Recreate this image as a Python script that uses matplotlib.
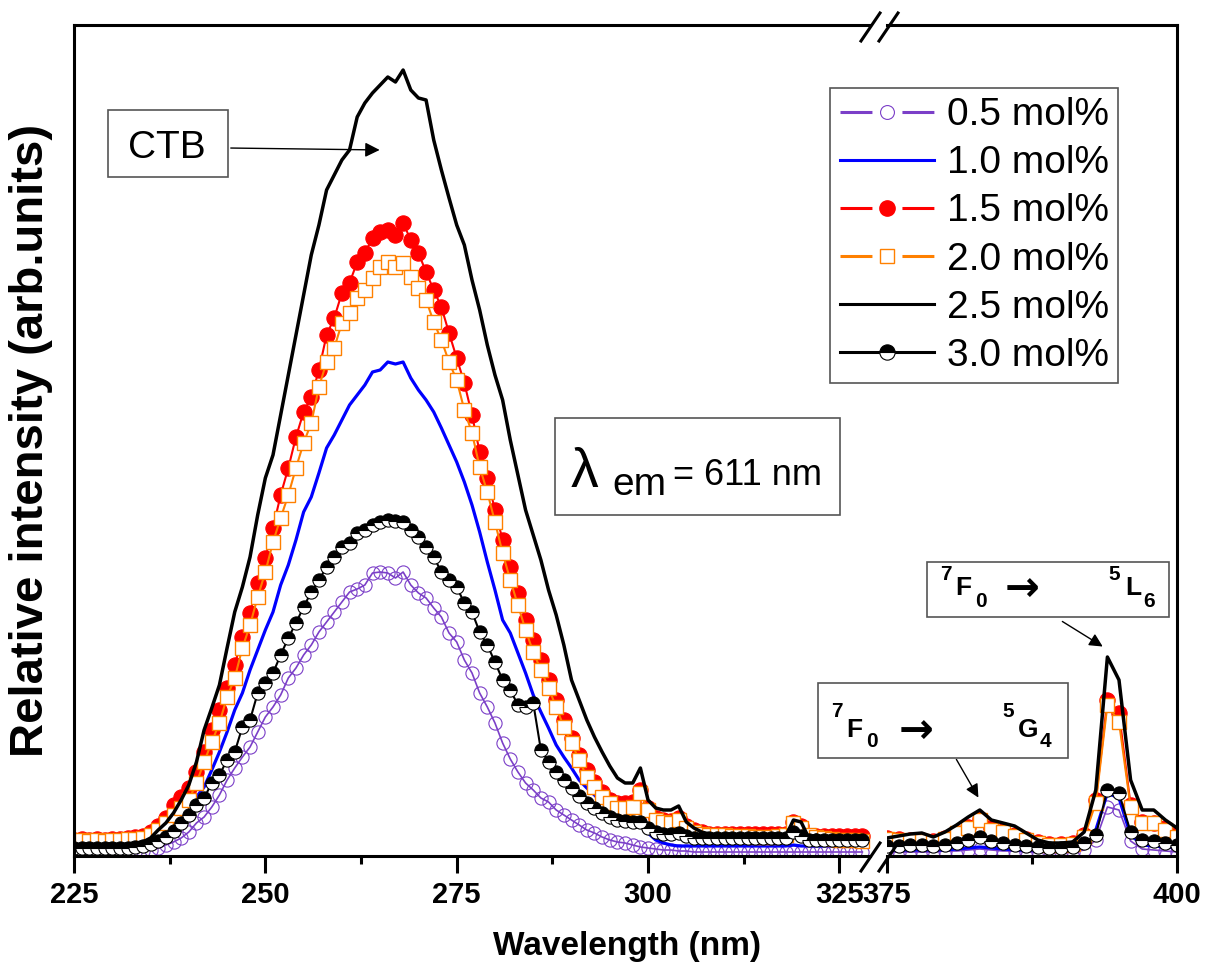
"""
Excitation spectra (lambda_em = 611 nm) for the six dopant concentrations,
drawn on a broken wavelength axis: 225-329 nm and 375-400 nm.
"""

import matplotlib.pyplot as plt
from matplotlib.lines import Line2D
from matplotlib.patches import Rectangle
from matplotlib.ticker import MultipleLocator

W, H = 1207, 969  # output size in pixels at dpi=100

plt.rcParams['font.family'] = ['Liberation Sans', 'DejaVu Sans']
plt.rcParams['lines.scale_dashes'] = False

# Wavelength grids (nm) of the two axis segments.
wl_left = list(range(225, 329))
wl_right = list(range(375, 401))

# Intensities (arb. units), one list per segment and concentration.
i05_left = [2, 2, 2, 2, 2, 2, 2, 3, 3, 4,
            5, 7, 10, 13, 17, 23, 32, 38, 48, 60,
            75, 87, 98, 108, 123, 138, 148, 160, 177, 187,
            200, 210, 223, 233, 243, 253, 263, 266, 270, 282,
            283, 282, 277, 283, 270, 262, 257, 247, 238, 222,
            213, 195, 182, 162, 148, 132, 112, 96, 83, 72,
            65, 57, 53, 45, 40, 35, 30, 25, 22, 18,
            15, 13, 12, 10, 8, 7, 6, 5, 5, 4,
            4, 3, 3, 3, 3, 3, 3, 3, 3, 3,
            3, 3, 3, 3, 3, 3, 3, 3, 3, 3,
            3, 3, 3, 3]
i10_left = [5, 5, 5, 5, 5, 5, 6, 6, 7, 9,
            12, 20, 27, 35, 43, 51, 58, 68, 85, 103,
            123, 145, 162, 185, 205, 225, 243, 270, 290, 315,
            343, 358, 382, 407, 420, 435, 450, 460, 470, 483,
            485, 493, 491, 493, 477, 465, 455, 443, 427, 410,
            393, 373, 350, 323, 293, 265, 235, 222, 202, 182,
            160, 143, 127, 110, 98, 87, 75, 67, 60, 52,
            47, 40, 37, 35, 33, 22, 15, 12, 10, 9,
            9, 9, 9, 9, 9, 9, 9, 9, 9, 9,
            9, 9, 9, 9, 10, 9, 9, 9, 9, 9,
            9, 9, 9, 9]
i15_left = [15, 16, 15, 16, 15, 16, 16, 17, 18, 19,
            23, 29, 37, 50, 58, 67, 83, 103, 125, 145,
            167, 190, 218, 242, 272, 297, 327, 360, 387, 418,
            443, 458, 485, 520, 537, 562, 572, 593, 602, 617,
            623, 625, 620, 632, 615, 602, 583, 565, 548, 522,
            497, 472, 440, 403, 377, 345, 315, 288, 262, 235,
            215, 195, 175, 155, 135, 117, 100, 85, 73, 63,
            55, 52, 52, 53, 65, 47, 37, 35, 34, 37,
            29, 25, 23, 21, 21, 21, 21, 21, 21, 21,
            21, 21, 21, 21, 33, 29, 19, 19, 19, 19,
            19, 19, 19, 19]
i20_left = [14, 15, 14, 15, 14, 15, 15, 16, 16, 17,
            20, 25, 32, 40, 47, 55, 72, 93, 113, 132,
            158, 177, 207, 230, 258, 283, 313, 337, 360, 387,
            412, 432, 468, 493, 507, 532, 542, 557, 565, 577,
            588, 593, 588, 592, 578, 567, 555, 533, 515, 493,
            475, 445, 422, 388, 363, 333, 302, 275, 250, 225,
            203, 185, 167, 148, 128, 112, 95, 78, 68, 58,
            52, 47, 47, 48, 62, 45, 35, 33, 32, 35,
            27, 23, 21, 20, 20, 20, 19, 19, 19, 18,
            18, 18, 19, 20, 32, 27, 20, 18, 17, 16,
            15, 15, 15, 14]
i25_left = [10, 10, 11, 10, 10, 11, 10, 11, 12, 13,
            17, 25, 32, 42, 55, 70, 93, 125, 147, 170,
            207, 243, 268, 298, 340, 377, 400, 440, 480, 520,
            560, 600, 630, 665, 680, 695, 705, 738, 752, 762,
            770, 778, 773, 785, 765, 757, 755, 715, 685, 657,
            630, 610, 575, 545, 510, 480, 455, 415, 380, 345,
            320, 295, 265, 240, 210, 175, 155, 135, 118, 103,
            89, 77, 72, 72, 87, 55, 47, 45, 45, 49,
            33, 27, 23, 21, 20, 19, 18, 17, 17, 17,
            17, 18, 18, 19, 35, 33, 17, 20, 17, 15,
            13, 13, 12, 12]
i30_left = [7, 7, 7, 7, 7, 7, 7, 7, 8, 9,
            11, 14, 18, 24, 32, 40, 50, 57, 72, 80,
            95, 103, 128, 135, 162, 172, 182, 200, 217, 232,
            248, 263, 275, 288, 298, 308, 312, 322, 325, 330,
            333, 335, 334, 333, 325, 318, 308, 298, 283, 275,
            268, 252, 243, 223, 210, 193, 175, 165, 150, 148,
            152, 105, 93, 83, 75, 67, 59, 52, 47, 42,
            38, 35, 34, 33, 33, 27, 23, 21, 21, 22,
            19, 17, 17, 17, 17, 17, 17, 17, 17, 17,
            17, 17, 17, 17, 23, 19, 15, 15, 15, 15,
            15, 15, 15, 15]

i05_right = [3, 3, 3, 3, 3, 4, 4, 5, 6, 5, 4, 4, 3,
             3, 3, 3, 3, 5, 15, 48, 45, 14, 6, 5, 4, 3]
i10_right = [5, 5, 5, 5, 5, 5, 6, 7, 8, 7, 6, 5, 5,
             4, 4, 4, 5, 8, 25, 62, 57, 20, 10, 9, 8, 7]
i15_right = [17, 16, 15, 15, 14, 17, 22, 28, 36, 27, 24, 20, 16,
             13, 11, 11, 12, 20, 55, 155, 142, 50, 33, 32, 27, 20]
i20_right = [16, 15, 14, 14, 13, 16, 22, 27, 35, 25, 23, 19, 15,
             12, 10, 10, 11, 18, 52, 150, 133, 48, 32, 32, 25, 18]
i25_right = [17, 19, 21, 22, 18, 23, 30, 38, 45, 35, 32, 29, 22,
             15, 12, 12, 13, 23, 65, 198, 175, 75, 45, 45, 35, 27]
i30_right = [9, 9, 10, 10, 9, 10, 12, 15, 18, 14, 12, 10, 9,
             8, 7, 7, 8, 12, 20, 65, 62, 23, 15, 14, 12, 10]

labels = ["0.5 mol%", "1.0 mol%", "1.5 mol%", "2.0 mol%", "2.5 mol%", "3.0 mol%"]

PURPLE = '#7B3FC8'
BLUE = '#0000FF'
RED = '#FF0000'
ORANGE = '#FF8000'

styles = [
    dict(color=PURPLE, lw=1.2, marker='o', ms=9.5, mfc='none', mec=PURPLE, mew=0.8),
    dict(color=BLUE, lw=2.3),
    dict(color=RED, lw=1.5, marker='o', ms=11, mfc=RED, mec=RED, mew=0.8),
    dict(color=ORANGE, lw=1.5, marker='s', ms=9.5, mfc='white', mec=ORANGE, mew=1.0),
    dict(color='black', lw=2.5),
    dict(color='black', lw=1.5, marker='o', ms=9.5, fillstyle='top', mfc='black',
         markerfacecoloralt='white', mec='black', mew=0.8),
]
left_data = [i05_left, i10_left, i15_left, i20_left, i25_left, i30_left]
right_data = [i05_right, i10_right, i15_right, i20_right, i25_right, i30_right]


def fx(x):
    return x / W


def fy(y):
    return 1 - y / H


def add_box(fig, x0, y0, x1, y1):
    fig.add_artist(Rectangle((fx(x0), fy(y1)), (x1 - x0) / W, (y1 - y0) / H,
                             transform=fig.transFigure, facecolor='white',
                             edgecolor='#555555', lw=1.2, zorder=2))


def add_pieces(fig, pieces):
    """Draw (text, x, baseline, size, family) pieces in pixel positions."""
    for s, x, y, size, fam in pieces:
        fig.text(fx(x), fy(y), s, fontsize=size, fontweight='bold', family=fam,
                 ha='left', va='baseline', zorder=3)


fig = plt.figure(figsize=(W / 100, H / 100), dpi=100)
ax1 = fig.add_axes([fx(74), fy(856), (870 - 74) / W, (856 - 25) / H])
ax2 = fig.add_axes([fx(887), fy(856), (1177 - 887) / W, (856 - 25) / H])

for d_left, d_right, st in zip(left_data, right_data, styles):
    ax1.plot(wl_left, d_left, **st)
    ax2.plot(wl_right, d_right, **st)

ax1.set_xlim(225, 329)
ax2.set_xlim(375, 400)
for ax in (ax1, ax2):
    ax.set_ylim(-1, 830)
    ax.set_yticks([])
    for sp in ax.spines.values():
        sp.set_linewidth(2.2)
    ax.xaxis.set_major_locator(MultipleLocator(25))
    ax.xaxis.set_minor_locator(MultipleLocator(12.5))
    ax.tick_params(axis='x', which='major', direction='out', length=12, width=2.2,
                   pad=6, labelsize=21)
    ax.tick_params(axis='x', which='minor', direction='out', length=6, width=2.2)
    for lab in ax.get_xticklabels():
        lab.set_fontweight('bold')
ax1.spines['right'].set_visible(False)
ax2.spines['left'].set_visible(False)

# axis break marks
for y_top, y_bot in ((41, 13), (871, 843)):
    for dx in (0, 18):
        fig.add_artist(Line2D([fx(861 + dx), fx(880 + dx)], [fy(y_top), fy(y_bot)],
                              transform=fig.transFigure, color='black', lw=2.2))

# legend with proxy handles
gap = dict(dashes=(23, 21.6))
handles = [
    Line2D([], [], color=PURPLE, lw=2.2, marker='o', ms=10, mfc='white', mec=PURPLE, mew=0.8, **gap),
    Line2D([], [], color=BLUE, lw=2.2),
    Line2D([], [], color=RED, lw=2.2, marker='o', ms=11, mfc=RED, mec=RED, **gap),
    Line2D([], [], color=ORANGE, lw=2.2, marker='s', ms=10, mfc='white', mec=ORANGE, mew=1.0, **gap),
    Line2D([], [], color='black', lw=2.2),
    Line2D([], [], color='black', lw=2.2, marker='o', ms=11, fillstyle='top', mfc='black',
           markerfacecoloralt='white', mec='black', mew=0.8),
]
leg = fig.legend(handles, labels, loc='upper right', bbox_to_anchor=(fx(1118), fy(88)),
                 bbox_transform=fig.transFigure, fontsize=28, handlelength=2.42,
                 handletextpad=0.33, labelspacing=0.31, borderpad=0.24, borderaxespad=0,
                 fancybox=False, framealpha=1, edgecolor='#555555', numpoints=1)
leg.get_frame().set_linewidth(1.2)

# CTB label
add_box(fig, 108, 110, 228, 177)
fig.text(fx(167), fy(158), "CTB", fontsize=28, ha='center', va='baseline', zorder=3)
ax1.annotate('', xy=(265.3, 705), xycoords='data', xytext=(228, H - 148),
             textcoords='figure pixels',
             arrowprops=dict(arrowstyle='-|>', color='black', lw=1.0, mutation_scale=22))

# excitation wavelength
add_box(fig, 555, 418, 840, 515)
fig.text(fx(571), fy(487), "λ", fontsize=40, ha='left', va='baseline', zorder=3)
fig.text(fx(612), fy(495), "em", fontsize=28, ha='left', va='baseline', zorder=3)
fig.text(fx(673), fy(485), "= 611 nm", fontsize=26, ha='left', va='baseline', zorder=3)

# f-f transitions
add_box(fig, 927, 562, 1169, 617)
add_pieces(fig, [("7", 940, 580, 15, None), ("F", 955, 595, 19, None),
                 ("0", 975, 607, 15, None), ("→", 1005, 601, 30, 'DejaVu Sans'),
                 ("5", 1108, 580, 15, None), ("L", 1125, 595, 19, None),
                 ("6", 1143, 607, 15, None)])
ax2.annotate('', xy=(393.8, 207), xycoords='data', xytext=(1060, H - 620),
             textcoords='figure pixels',
             arrowprops=dict(arrowstyle='-|>', color='black', lw=1.0, mutation_scale=20))

add_box(fig, 818, 683, 1068, 758)
add_pieces(fig, [("7", 831, 717, 15, None), ("F", 846, 737, 19, None),
                 ("0", 866, 747, 15, None), ("→", 899, 743, 30, 'DejaVu Sans'),
                 ("5", 1002, 717, 15, None), ("G", 1018, 737, 19, None),
                 ("4", 1040, 747, 15, None)])
ax2.annotate('', xy=(383.0, 55), xycoords='data', xytext=(955, H - 757),
             textcoords='figure pixels',
             arrowprops=dict(arrowstyle='-|>', color='black', lw=1.0, mutation_scale=20))

fig.text(fx(627), fy(947), "Wavelength (nm)", fontsize=24, fontweight='bold',
         ha='center', va='center')
fig.text(fx(31), fy(440), "Relative intensity (arb.units)", fontsize=34, fontweight='bold',
         rotation=90, ha='center', va='center')

fig.savefig("out.png", dpi=100)
